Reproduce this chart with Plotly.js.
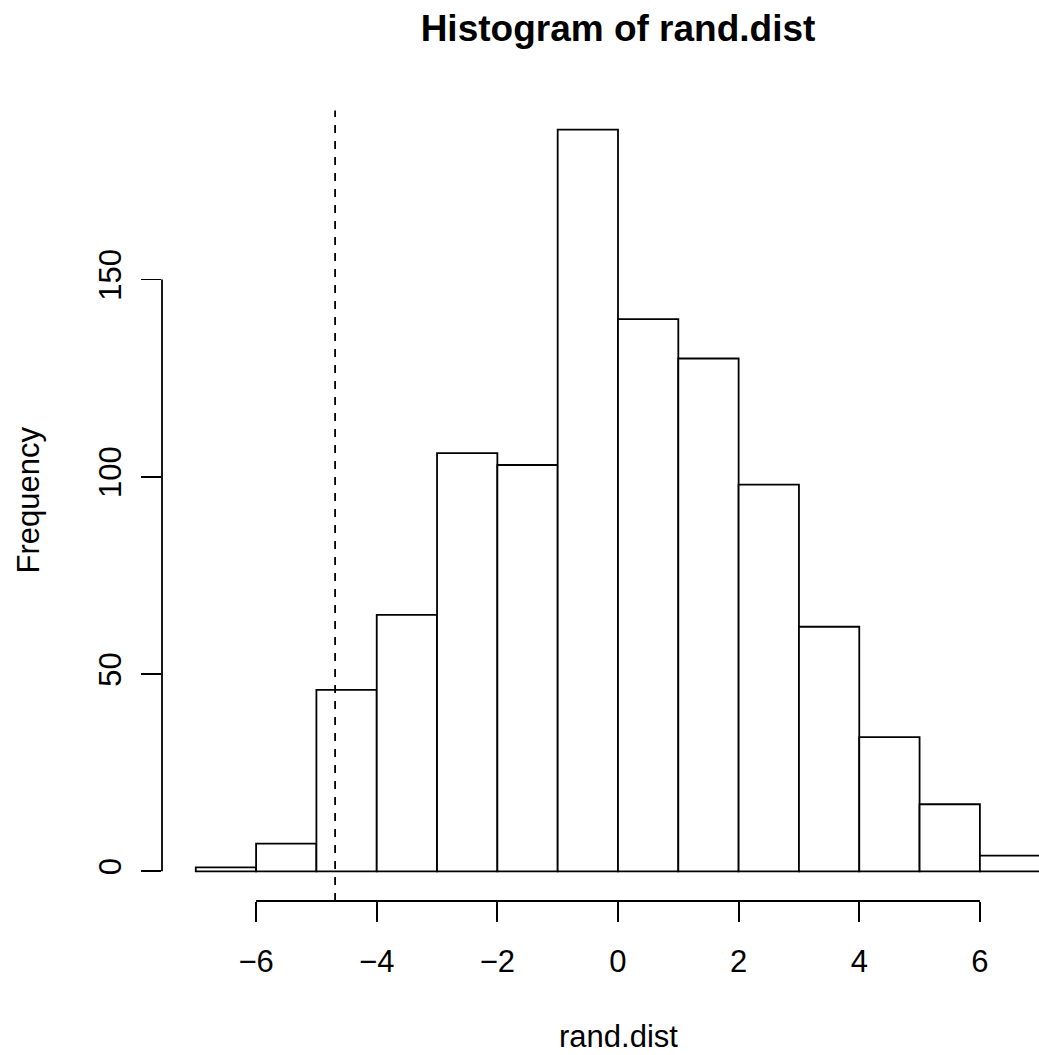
<!DOCTYPE html>
<html>
<head>
<meta charset="utf-8">
<script src="https://cdn.plot.ly/plotly-3.0.1.min.js"></script>
<style>html,body{margin:0;padding:0;background:#fff;}#chart{width:1039px;height:1055px;}</style>
</head>
<body>
<div id="chart"></div>
<script>
// Histogram bin edges (width 1) and counts
const binStarts = [-7, -6, -5, -4, -3, -2, -1, 0, 1, 2, 3, 4, 5, 6];
const counts    = [1, 7, 46, 65, 106, 103, 188, 140, 130, 98, 62, 34, 17, 4];
const binWidth = 1;

// Reference line (dashed)
const cutoff = -4.69;

// Axis ticks
const xTickVals = [-6, -4, -2, 0, 2, 4, 6];
const xTickText = ["\u22126", "\u22124", "\u22122", "0", "2", "4", "6"];
const yTickVals = [0, 50, 100, 150];
const yTickText = ["0", "50", "100", "150"];

const titleText = "Histogram of rand.dist";
const xLabel = "rand.dist";
const yLabel = "Frequency";

const mids = binStarts.map(s => s + binWidth / 2);
const font = "Liberation Sans, Arial, Helvetica, sans-serif";
const lw = 1.8;

const trace = {
  type: "bar",
  x: mids,
  y: counts,
  width: binStarts.map(() => binWidth),
  marker: { color: "#ffffff", line: { color: "#000000", width: lw } },
  hoverinfo: "x+y"
};

const layout = {
  width: 1039,
  height: 1055,
  margin: { l: 162, r: 0, t: 100, b: 154, pad: 0 },
  paper_bgcolor: "#ffffff",
  plot_bgcolor: "#ffffff",
  showlegend: false,
  font: { family: font, size: 31, color: "#000000" },
  title: {
    text: "<b>" + titleText + "</b>",
    font: { family: font, size: 37, color: "#000000" },
    xref: "container", x: 618 / 1039, xanchor: "center",
    yref: "container", y: 1 - 28 / 1055, yanchor: "middle"
  },
  xaxis: {
    range: [-7.56, 6.98],
    showgrid: false, zeroline: false, showline: false,
    ticks: "outside", ticklen: 20, tickwidth: lw, tickcolor: "#000000",
    tickmode: "array", tickvals: xTickVals, ticktext: xTickText,
    tickfont: { family: font, size: 31, color: "#000000" },
    ticklabelstandoff: 13,
    fixedrange: true
  },
  yaxis: {
    range: [-7.52, 195.52],
    showgrid: false, zeroline: false, showline: false,
    ticks: "outside", ticklen: 20, tickwidth: lw, tickcolor: "#000000",
    tickmode: "array", tickvals: yTickVals, ticktext: yTickText,
    tickangle: -90,
    tickfont: { family: font, size: 31, color: "#000000" },
    ticklabelstandoff: 8,
    fixedrange: true
  },
  shapes: [
    { type: "line", xref: "x", yref: "paper",
      x0: xTickVals[0], x1: xTickVals[xTickVals.length - 1], y0: 0, y1: 0,
      line: { color: "#000000", width: lw } },
    { type: "line", xref: "paper", yref: "y",
      x0: 0, x1: 0, y0: yTickVals[0], y1: yTickVals[yTickVals.length - 1],
      line: { color: "#000000", width: lw } },
    { type: "line", xref: "x", yref: "paper",
      x0: cutoff, x1: cutoff, y0: 0, y1: 0.987,
      line: { color: "#000000", width: lw, dash: "8px,8px" } }
  ],
  annotations: [
    { text: xLabel, xref: "paper", yref: "paper",
      x: (618 - 162) / 877, y: 0, xanchor: "center", yanchor: "middle",
      yshift: -135, showarrow: false,
      font: { family: font, size: 31, color: "#000000" } },
    { text: yLabel, xref: "paper", yref: "paper",
      x: 0, y: 0.5, xanchor: "center", yanchor: "middle",
      xshift: -134, textangle: -90, showarrow: false,
      font: { family: font, size: 31, color: "#000000" } }
  ]
};

Plotly.newPlot("chart", [trace], layout, { displayModeBar: false, staticPlot: true });
</script>
</body>
</html>
